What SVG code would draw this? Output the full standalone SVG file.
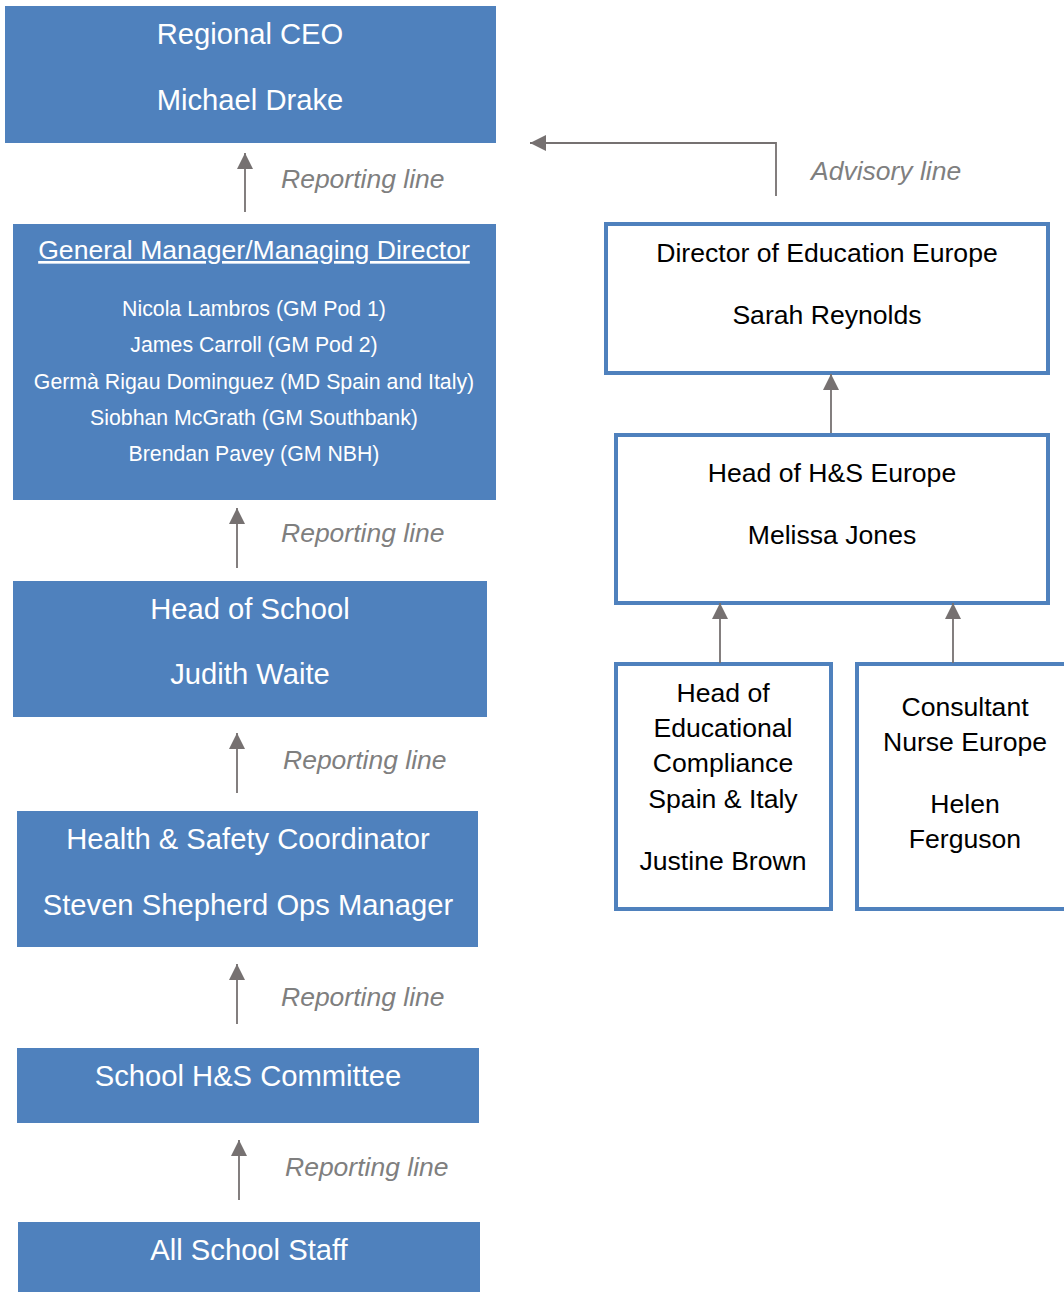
<svg xmlns="http://www.w3.org/2000/svg" width="1064" height="1292" viewBox="0 0 1064 1292">
<style>
.blue{fill:#4F81BD}
.wbox{fill:#FFFFFF;stroke:#4F81BD;stroke-width:4}
.wt{fill:#FFFFFF;font-family:"Liberation Sans",Arial,sans-serif;font-size:29.2px;text-anchor:middle}
.wt26{fill:#FFFFFF;font-family:"Liberation Sans",Arial,sans-serif;font-size:26.6px;text-anchor:middle}
.ws{fill:#FFFFFF;font-family:"Liberation Sans",Arial,sans-serif;font-size:21.3px;text-anchor:middle}
.bt{fill:#000000;font-family:"Liberation Sans",Arial,sans-serif;font-size:26.6px;text-anchor:middle}
.lbl{fill:#7F7F7F;font-family:"Liberation Sans",Arial,sans-serif;font-size:26.5px;font-style:italic}
.conn{stroke:#767171;stroke-width:1.8;fill:none;marker-end:url(#ah)}
</style>
<defs>
<marker id="ah" markerUnits="userSpaceOnUse" markerWidth="16" markerHeight="16" refX="16" refY="8" orient="auto">
<path d="M0,0 L16,8 L0,16 z" fill="#767171"/>
</marker>
</defs>
<rect width="1064" height="1292" fill="#FFFFFF"/>
<g id="ceo">
<rect class="blue" x="5" y="6" width="491" height="137"/>
<text class="wt" x="250" y="44">Regional CEO</text>
<text class="wt" x="250" y="110">Michael Drake</text>
</g>
<g id="gm">
<rect class="blue" x="13" y="224" width="483" height="276"/>
<text class="wt26" x="254" y="259" text-decoration="underline">General Manager/Managing Director</text>
<text class="ws" x="254" y="316">Nicola Lambros (GM Pod 1)</text>
<text class="ws" x="254" y="352">James Carroll (GM Pod 2)</text>
<text class="ws" x="254" y="389">Germà Rigau Dominguez (MD Spain and Italy)</text>
<text class="ws" x="254" y="425">Siobhan McGrath (GM Southbank)</text>
<text class="ws" x="254" y="461">Brendan Pavey (GM NBH)</text>
</g>
<g id="hos">
<rect class="blue" x="13" y="581" width="474" height="136"/>
<text class="wt" x="250" y="619">Head of School</text>
<text class="wt" x="250" y="684">Judith Waite</text>
</g>
<g id="hsc">
<rect class="blue" x="17" y="811" width="461" height="136"/>
<text class="wt" x="248" y="849">Health &amp; Safety Coordinator</text>
<text class="wt" x="248" y="915">Steven Shepherd Ops Manager</text>
</g>
<g id="committee">
<rect class="blue" x="17" y="1048" width="462" height="75"/>
<text class="wt" x="248" y="1086">School H&amp;S Committee</text>
</g>
<g id="staff">
<rect class="blue" x="18" y="1222" width="462" height="70"/>
<text class="wt" x="249" y="1260">All School Staff</text>
</g>
<g id="doe">
<rect class="wbox" x="606" y="224" width="442" height="149"/>
<text class="bt" x="827" y="262">Director of Education Europe</text>
<text class="bt" x="827" y="324">Sarah Reynolds</text>
</g>
<g id="hse">
<rect class="wbox" x="616" y="435" width="432" height="168"/>
<text class="bt" x="832" y="482">Head of H&amp;S Europe</text>
<text class="bt" x="832" y="544">Melissa Jones</text>
</g>
<g id="hec">
<rect class="wbox" x="616" y="664" width="215" height="245"/>
<text class="bt" x="723" y="702">Head of</text>
<text class="bt" x="723" y="737">Educational</text>
<text class="bt" x="723" y="772">Compliance</text>
<text class="bt" x="723" y="808">Spain &amp; Italy</text>
<text class="bt" x="723" y="870">Justine Brown</text>
</g>
<g id="cne">
<rect class="wbox" x="857" y="664" width="215" height="245"/>
<text class="bt" x="965" y="716">Consultant</text>
<text class="bt" x="965" y="751">Nurse Europe</text>
<text class="bt" x="965" y="813">Helen</text>
<text class="bt" x="965" y="848">Ferguson</text>
</g>
<g id="connectors">
<line class="conn" x1="245" y1="212" x2="245" y2="153"/>
<line class="conn" x1="237" y1="568" x2="237" y2="508"/>
<line class="conn" x1="237" y1="793" x2="237" y2="733"/>
<line class="conn" x1="237" y1="1024" x2="237" y2="964"/>
<line class="conn" x1="239" y1="1200" x2="239" y2="1140"/>
<path class="conn" d="M776,196 V143 H530"/>
<line class="conn" x1="831" y1="433" x2="831" y2="374"/>
<line class="conn" x1="720" y1="663" x2="720" y2="603"/>
<line class="conn" x1="953" y1="663" x2="953" y2="603"/>
<text class="lbl" x="281" y="188">Reporting line</text>
<text class="lbl" x="281" y="542">Reporting line</text>
<text class="lbl" x="283" y="769">Reporting line</text>
<text class="lbl" x="281" y="1006">Reporting line</text>
<text class="lbl" x="285" y="1176">Reporting line</text>
<text class="lbl" x="811" y="180">Advisory line</text>
</g>
</svg>
